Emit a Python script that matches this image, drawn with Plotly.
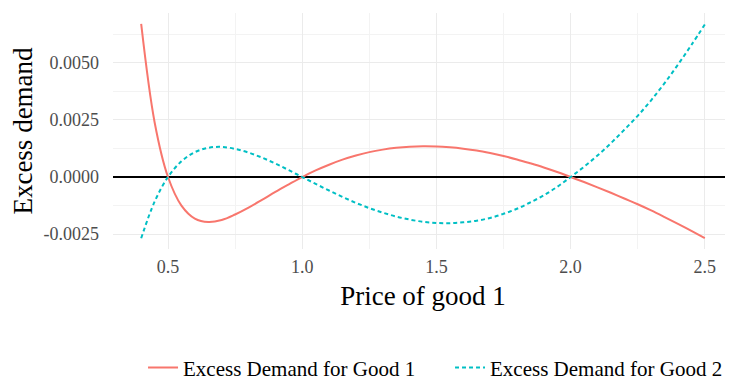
import plotly.graph_objects as go

price = [0.40, 0.45, 0.50, 0.55, 0.60, 0.65, 0.70, 0.75, 0.80, 0.85, 0.90, 0.95,
         1.00, 1.05, 1.10, 1.15, 1.20, 1.25, 1.30, 1.35, 1.40, 1.45, 1.50, 1.55,
         1.60, 1.65, 1.70, 1.75, 1.80, 1.85, 1.90, 1.95, 2.00, 2.05, 2.10, 2.15,
         2.20, 2.25, 2.30, 2.35, 2.40, 2.45, 2.50]

# excess demand values, in units of 1e-3
good1_e3 = [6.70, 2.40, 0.00, -1.25, -1.82, -1.97, -1.88, -1.64, -1.34, -1.00, -0.65, -0.32,
            0.00, 0.29, 0.54, 0.76, 0.94, 1.09, 1.20, 1.28, 1.33, 1.35, 1.34, 1.30,
            1.24, 1.16, 1.05, 0.92, 0.77, 0.60, 0.42, 0.22, 0.00, -0.22, -0.45, -0.69,
            -0.94, -1.19, -1.46, -1.75, -2.05, -2.36, -2.67]
good2_e3 = [-2.68, -1.08, 0.00, 0.69, 1.09, 1.28, 1.32, 1.23, 1.07, 0.85, 0.59, 0.30,
            0.00, -0.30, -0.59, -0.87, -1.13, -1.36, -1.56, -1.73, -1.86, -1.96, -2.01, -2.02,
            -1.98, -1.91, -1.79, -1.61, -1.39, -1.11, -0.80, -0.43, 0.00, 0.45, 0.94, 1.48,
            2.07, 2.68, 3.36, 4.11, 4.92, 5.78, 6.68]

series_names = ["Excess Demand for Good 1", "Excess Demand for Good 2"]
y_tickvals = [-0.0025, 0.0, 0.0025, 0.0050]
y_ticktext = ["-0.0025", "0.0000", "0.0025", "0.0050"]
x_tickvals = [0.5, 1.0, 1.5, 2.0, 2.5]
x_ticktext = ["0.5", "1.0", "1.5", "2.0", "2.5"]

good1 = [v / 1000 for v in good1_e3]
good2 = [v / 1000 for v in good2_e3]

FONT = "Liberation Serif"

fig = go.Figure()
fig.add_trace(go.Scatter(x=price, y=good1, mode="lines", name=series_names[0],
                         line=dict(color="#F8766D", width=2, shape="spline")))
fig.add_trace(go.Scatter(x=price, y=good2, mode="lines", name=series_names[1],
                         line=dict(color="#00BFC4", width=2, shape="spline", dash="4px,3px")))

grid = dict(showgrid=True, gridcolor="#ebebeb", gridwidth=1.2,
            minor=dict(showgrid=True, gridcolor="#f3f3f3", gridwidth=0.6),
            showline=False, ticks="", automargin=False,
            tickfont=dict(family=FONT, size=18, color="#4d4d4d"))

fig.update_xaxes(range=[0.295, 2.605], tickvals=x_tickvals, ticktext=x_ticktext,
                 minor_tickvals=[0.75, 1.25, 1.75, 2.25], zeroline=False,
                 ticklabelstandoff=5,
                 title=dict(text="Price of good 1", font=dict(family=FONT, size=27, color="black"),
                            standoff=10), **grid)
fig.update_yaxes(range=[-0.00315, 0.00718], tickvals=y_tickvals, ticktext=y_ticktext,
                 minor_tickvals=[-0.00125, 0.00125, 0.00375, 0.00625],
                 zeroline=True, zerolinecolor="black", zerolinewidth=1.8,
                 ticklabelstandoff=13,
                 title=dict(text="Excess demand", font=dict(family=FONT, size=27, color="black"),
                            standoff=8), **grid)

fig.update_layout(
    width=725, height=373,
    margin=dict(l=105, r=0, t=5, b=132),
    plot_bgcolor="white", paper_bgcolor="white",
    font=dict(family=FONT),
    showlegend=True,
    legend=dict(orientation="h", xref="container", yref="container",
                x=0.6097, xanchor="center", y=0.035, yanchor="middle",
                font=dict(family=FONT, size=21, color="black"), itemwidth=30,
                entrywidth=262, entrywidthmode="pixels",
                bgcolor="rgba(0,0,0,0)"),
)

fig.write_html("out.html")
